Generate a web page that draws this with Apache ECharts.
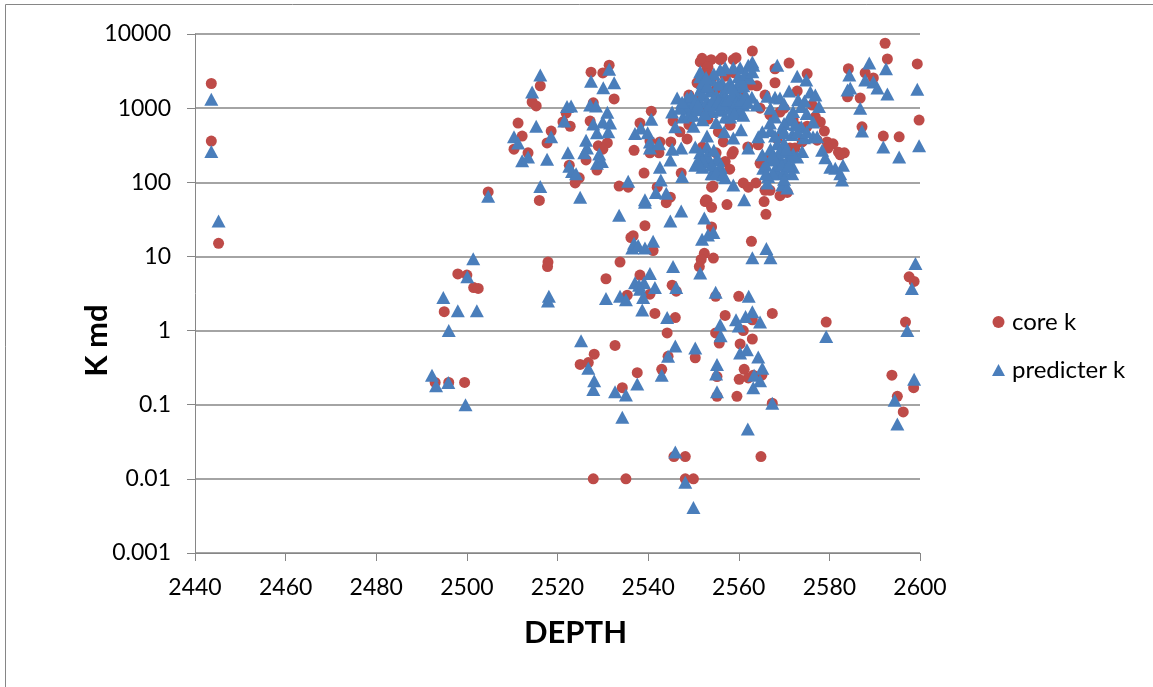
<!DOCTYPE html>
<html><head><meta charset="utf-8">
<style>html,body{margin:0;padding:0;background:#fff;overflow:hidden}#c{width:1153px;height:687px}</style>
<script src="https://cdn.jsdelivr.net/npm/echarts@6/dist/echarts.min.js"></script>
</head><body><div id="c"></div>
<script>
const seriesNames = ['core k', 'predicter k'];
const xLabel = 'DEPTH';
const yLabel = 'K md';
const yTickLabels = ['0.001', '0.01', '0.1', '1', '10', '100', '1000', '10000'];
const coreK = [
[2443.6,2150],[2443.6,360],[2445.2,15],[2504.7,74],[2498,5.8],[2500,5.6],[2501.5,3.8],[2502.5,3.7],[2495,1.8],[2493,0.2],[2496,0.2],[2499.5,0.2],
[2516.2,2000],[2514.4,1210],[2515.3,1070],[2511.3,630],[2512.2,420],[2510.4,280],[2513.5,250],[2518.6,490],[2517.7,340],[2516,57],
[2527.4,3050],[2530,2980],[2531.4,3800],[2532.5,1330],[2521.9,860],[2521.2,650],[2522.8,570],[2527.2,670],[2527.9,1180],[2529,310],[2531,340],[2530,280],[2526.3,200],[2528.7,146],[2522.6,170],[2524.8,115],[2523.9,98],
[2540.7,910],[2538.2,630],[2536.9,270],[2539.1,133],[2533.6,89],[2535.6,86],[2540.4,360],[2542.6,350],[2545,350],[2540.4,250],[2542.4,250],[2547.3,133],[2554,86],[2547,480],[2548.6,385],[2545.5,670],[2553.2,710],[2542,86],[2544.9,63],[2552.8,58],
[2551.5,4200],[2551.9,4700],[2553.9,4500],[2555.9,4500],[2553,3500],[2554,2500],[2550.8,2200],[2556.3,4800],[2558.8,4500],[2559.4,4800],[2563,5900],[2571.1,4050],[2575.1,2900],[2568,3400],[2568,2200],[2572.9,1700],
[2592.3,7500],[2592.8,4600],[2599.4,3950],[2584.2,3400],[2587.9,3000],[2589.7,2550],[2584,1420],[2586.8,1370],[2587.2,560],[2591.9,420],[2595.4,410],[2599.8,690],
[2578,650],[2578.9,490],[2577.3,370],[2579.5,350],[2580.8,330],[2579.7,290],[2582,255],[2583.3,250],[2582.4,235],[2576.9,760],[2576.2,1100],[2565.8,1500],[2564.7,1000],[2566.9,810],[2569.1,885],[2568.5,385],[2571.3,290],[2572.4,290],[2573.1,560],[2575.1,570],[2566.9,220],[2564.7,180],[2564.3,320],
[2561,98],[2562.1,86],[2563.8,98],[2565.8,78],[2566.9,78],[2569.1,66],[2570.7,73],[2554.3,89],[2558.5,240],[2558.8,260],[2557,190],[2556.6,350],[2558.1,590],[2555.5,480],[2552.6,55],[2565.6,55],[2553.2,3600],[2562.7,2050],[2560.3,1600],
[2517.9,8.4],[2517.8,7.3],[2533.8,8.4],[2530.7,5],[2536.7,19],[2536.2,18],[2539.3,26],[2541.1,12],[2538.2,5.6],[2540.4,3.1],[2535.4,3],[2545.3,4.1],[2546.2,3.4],[2541.5,1.7],[2546,1.5],[2544.2,0.93],[2532.7,0.63],[2528.1,0.48],[2525,0.35],[2526.8,0.37],[2550.4,0.43],[2544.4,0.45],[2543,0.3],[2537.6,0.27],[2554,25],[2553,57],[2554,46],[2544,53],[2552.4,11],[2551.7,9.1],[2551.3,7.3],[2554.4,9.5],[2554.9,2.9],[2554.9,0.93],[2555.7,0.68],
[2534.3,0.17],[2527.9,0.01],[2535.1,0.01],[2548.2,0.01],[2550,0.01],[2545.7,0.02],[2548.2,0.02],[2564.9,0.02],[2555.2,0.13],[2559.6,0.13],[2555.2,0.24],[2560.1,0.22],[2561.2,0.3],[2563.2,0.25],[2562.1,0.23],[2565.1,0.25],[2567.4,0.105],[2560.3,0.66],
[2560,2.9],[2557,1.6],[2567.4,1.7],[2563,0.77],[2561,1],[2563,1.4],[2562.8,16],[2557.4,50],[2566,37],[2593.8,0.25],[2595,0.13],[2596.8,1.3],[2597.6,5.3],[2598.7,4.6],[2598.6,0.17],[2596.3,0.08],[2579.3,1.3],
[2549,1500],[2551,1300],[2553,2900],[2555,1800],[2557,2700],[2559,3000],[2561,2200],[2552,1000],[2556,1200],[2560,900],[2549,600],[2552,300],[2555,250],[2558,150],[2562,300],[2564,2000],[2570,1000],[2572,700],[2574,350]
];
const predicterK = [
[2443.6,1320],[2443.6,260],[2445.2,30],[2492.3,0.25],[2493.2,0.18],[2495.9,0.2],[2494.8,2.8],[2498,1.85],[2496,1],[2499.7,0.1],[2501.4,9.3],[2500.1,5.3],[2502.2,1.85],[2504.7,65],
[2516.2,2800],[2514.4,1650],[2510.4,410],[2511.3,340],[2515.3,570],[2518.6,410],[2512.2,195],[2513.5,220],[2517.7,205],[2522.3,250],[2522.1,1050],[2523,1070],[2521.5,670],[2527.4,2300],[2530.1,1880],[2532.5,2200],[2531.4,3350],[2527.2,1100],[2528.5,1070],[2531,880],[2527.9,610],[2530,650],[2531.6,630],[2528.7,465],[2531.2,480],[2526.3,370],[2526.5,290],[2525.9,250],[2529.2,240],[2528.7,180],[2529.8,190],[2522.6,165],[2523.2,140],[2524.1,130],[2516.2,88],[2525,63],
[2535.6,103],[2537.1,455],[2538.4,540],[2539.9,465],[2540.7,710],[2540.4,350],[2540.4,290],[2542.4,330],[2545.3,280],[2547.3,290],[2544.9,200],[2542.6,160],[2547.5,120],[2542.8,107],[2541.7,73],[2544,71],[2539.3,58],
[2546.4,1370],[2548.6,1370],[2545.3,890],[2548.8,1000],[2546,560],[2550,570],[2547.7,760],[2551.5,3100],[2551.5,1750],[2553.7,1700],[2551.5,1200],[2554.4,1100],[2553,420],[2553,300],[2550.4,300],[2551.5,250],[2550.4,170],[2553.7,190],[2555.5,200],[2554,130],
[2568.5,3800],[2572.9,2700],[2574.9,2400],[2575.8,1650],[2576.9,1500],[2577.7,1050],[2576.4,650],[2571.1,1700],[2573.1,1300],[2573.8,1050],[2571.1,740],[2571.8,690],[2569.6,540],[2573.8,560],[2571.8,440],[2574.4,400],[2576.4,410],[2577.3,410],[2568.5,330],[2570.2,260],[2574,260],[2572.9,220],[2565.2,235],[2569.1,215],[2570.7,190],[2572,160],[2566.9,200],[2565.4,155],[2568.7,130],[2571.8,130],[2566.5,120],[2566.3,98],[2569.6,92],[2570.7,84],[2562.1,290],[2564.3,410],[2565.2,480],[2560.5,510],[2558.8,395],[2556.8,480],[2555.9,160],[2555.2,210],[2554.3,130],[2557,115],[2558.8,92],[2561.2,58],
[2563,4200],[2562.1,3800],[2560.3,3500],[2558.8,3500],[2557,3500],[2555.9,3300],[2563.2,3800],[2562.3,2550],[2559.9,2650],[2558.1,2200],[2556.3,2200],[2556.6,1650],[2559.6,1950],[2560.3,1370],[2562.9,1400],[2564,1100],[2566.3,1450],[2568,1400],[2569.1,1370],[2568,760],[2566.9,630],[2557.7,1170],[2558.8,1100],[2555.9,940],[2560.3,940],[2557,760],[2558.1,760],[2553.2,940],[2551.9,1950],[2551.5,2650],
[2584.4,2800],[2584.6,1870],[2584,1750],[2588.8,4050],[2587.9,2400],[2589.7,2250],[2590.6,1870],[2592.5,3400],[2592.8,1550],[2599.4,1800],[2586.8,1000],[2587.2,490],[2591.9,300],[2595.4,220],[2599.8,310],[2578.4,270],[2579.1,215],[2580.2,160],[2581.3,155],[2583,170],[2582.8,107],[2582.4,130],
[2533.6,36],[2539.3,54],[2547.3,41],[2544.9,30],[2552.4,33],[2551.9,17],[2553.2,19.5],[2554.4,21],[2536.5,13],[2536.9,15],[2537.8,14],[2539.3,13],[2541.1,16],[2545.5,7.3],[2551.5,6],[2540.4,5.9],[2537.1,4.4],[2539.1,4.4],[2538,4.1],[2538.2,3.6],[2541.5,3.8],[2538.9,2.8],[2546.2,3.8],[2554.9,3.3],[2530.7,2.7],[2533.8,2.9],[2535.1,2.6],[2538.7,1.9],[2544.2,1.5],[2518.1,2.9],[2517.9,2.5],[2525.2,0.73],[2546,0.62],[2550.4,0.58],[2544.4,0.45],[2555.2,0.35],[2555.9,1.2],
[2526.8,0.31],[2528.1,0.21],[2527.9,0.16],[2532.7,0.15],[2535.1,0.135],[2537.6,0.19],[2543,0.25],[2534.3,0.068],[2546,0.023],[2548.2,0.009],[2550,0.0041],[2555,0.26],[2555.2,0.15],[2560.3,0.5],[2561.8,0.55],[2564.3,0.44],[2565.2,0.31],[2563.4,0.25],[2564.7,0.21],[2563.2,0.17],[2567.4,0.105],[2562,0.047],
[2559.4,1.4],[2560,1.15],[2561.5,1.55],[2562.2,2.9],[2563,1.8],[2564.7,1.3],[2563,9.6],[2566.1,12.8],[2567,9.6],[2579.3,0.83],[2599,8],[2598.2,3.7],[2597.2,1],[2598.7,0.22],[2594.4,0.115],[2595,0.055],[2556,0.85],
[2549,1300],[2550,1000],[2552,1500],[2553,1250],[2554,2400],[2555,1500],[2557,1400],[2559,1300],[2561,1100],[2559,1700],[2549,800],[2552,700],[2555,640],[2561,2000],[2552,2200],[2554,900],[2556,1000],[2558,1000],[2548,1100],[2569,180],[2567,280],[2568,150],[2570,140],[2571,220],[2556,160],[2552,160],[2566,170],[2573,480],[2570,340],
[2547,1000],[2547.5,1200],[2549.5,1450],[2550.5,1250],[2550,800],[2551,950],[2552.5,850],[2553.5,1100],[2554.5,1350],[2555.5,1250],[2556.5,1150],[2557.5,1300],[2558.5,1500],[2559.5,1200],[2560.5,1300],[2561.5,1500],[2562,1200],[2559,850],[2561,800],[2553,2000],[2554.5,2900],[2555.5,2100],[2557.5,1900],[2558.5,1900],[2560.5,2400],[2561.5,2900],[2563,3100],[2552.8,2600],[2551,1100],[2568,210],[2569.5,170],[2571,170],[2567.5,130],[2570,110],[2572,240],[2569,260],[2567.5,230],[2566,130],[2570.5,280],[2554,170],[2553,230],[2552,200],[2555,135],[2556.5,125],[2554.5,270],[2551,190],
[2567,1000],[2570,1150],[2572,900],[2574.5,1250],[2575,850],[2570,620],[2572.5,600],[2575,480],[2570,470],[2567,500],[2568,420]
];
const chart = echarts.init(document.getElementById('c'), null, {renderer: 'canvas'});
const font = 'Lato, "Open Sans", sans-serif';
const gray = '#868686';
chart.setOption({
  animation: false,
  backgroundColor: '#fff',
  textStyle: {fontFamily: font},
  graphic: [{type: 'rect', silent: true, z: -1, shape: {x: 5.5, y: 4.5, width: 1300, height: 800},
    style: {fill: '#fff', stroke: gray, lineWidth: 1}}],
  grid: {left: 195, right: 233, top: 34, bottom: 134},
  legend: {
    orient: 'vertical', left: 987, top: 305, itemGap: 24, itemWidth: 13, itemHeight: 12,
    textStyle: {fontFamily: font, fontSize: 24, color: '#000', padding: [0, 0, 0, 2]},
    data: [{name: seriesNames[0], icon: 'circle'}, {name: seriesNames[1], icon: 'triangle'}]
  },
  xAxis: {
    type: 'value', min: 2440, max: 2600, interval: 20,
    name: xLabel, nameLocation: 'middle', nameGap: 64, nameMoveOverlap: false,
    nameTextStyle: {fontFamily: font, fontSize: 31, fontWeight: 'bold', color: '#000', padding: [0, 0, 0, 36]},
    axisLine: {show: true, onZero: false, lineStyle: {color: gray, width: 1}},
    axisTick: {show: true, length: 8, inside: false, lineStyle: {color: gray}},
    axisLabel: {fontFamily: font, fontSize: 23, color: '#000', margin: 23, formatter: v => String(v)},
    splitLine: {show: false}
  },
  yAxis: {
    type: 'log', logBase: 10, min: 0.001, max: 10000,
    name: yLabel, nameLocation: 'middle', nameGap: 83, nameRotate: 90, nameMoveOverlap: false,
    nameTextStyle: {fontFamily: font, fontSize: 31, fontWeight: 'bold', color: '#000', padding: [0, 94, 0, 0]},
    axisLine: {show: true, onZero: false, lineStyle: {color: gray, width: 1}},
    axisTick: {show: true, length: 8, inside: false, lineStyle: {color: gray}},
    minorTick: {show: false},
    axisLabel: {fontFamily: font, fontSize: 23, color: '#000', margin: 24,
      formatter: v => yTickLabels[Math.round(Math.log10(v)) + 3]},
    splitLine: {show: true, lineStyle: {color: gray, width: 1.5}}
  },
  series: [
    {name: seriesNames[0], type: 'scatter', data: coreK, symbol: 'circle', symbolSize: 11,
     itemStyle: {color: '#BE4B48', opacity: 1}, z: 2},
    {name: seriesNames[1], type: 'scatter', data: predicterK, symbol: 'triangle', symbolSize: [14, 13],
     itemStyle: {color: '#4A7EBB', opacity: 1}, z: 3}
  ]
});
</script></body></html>
